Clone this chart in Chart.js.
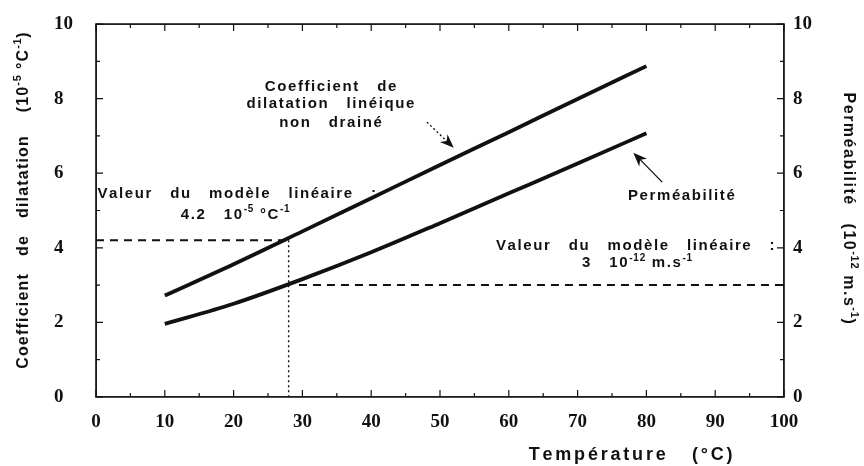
<!DOCTYPE html>
<html>
<head>
<meta charset="utf-8">
<script src="https://cdn.jsdelivr.net/npm/chart.js@4.4.1/dist/chart.umd.min.js"></script>
<style>
  html, body { margin: 0; padding: 0; background: #fff; }
  #graph { display: block; }
</style>
</head>
<body>
<canvas id="graph" width="864" height="466"></canvas>
<script>
// courbes mesurées
const temperatures = [10, 20, 30, 40, 50, 60, 70, 80]
const dilatation = [2.72, 3.56, 4.44, 5.33, 6.22, 7.10, 7.99, 8.87]
const permeabilite = [1.96, 2.50, 3.16, 3.88, 4.66, 5.46, 6.26, 7.07]

// valeurs du modèle linéaire
const modeleTemperature = 28
const modeleDilatation = 4.2
const modelePermeabilite = 3
const debutModelePermeabilite = 29.5

// graduations
const xTicks = [0, 10, 20, 30, 40, 50, 60, 70, 80, 90, 100]
const yTicks = [0, 2, 4, 6, 8, 10]

const SANS = '"Liberation Sans", Arial, sans-serif'
const SERIF = '"Liberation Serif", "Times New Roman", serif'
const NOIR = '#111'
const XMIN = 0, XMAX = 100, YMIN = 0, YMAX = 10

const points = (xs, ys) => xs.map((x, i) => ({ x: x, y: ys[i] }))

// cadre fermé, en unités des axes
const cadre = [
  { x: XMIN, y: YMIN }, { x: XMAX, y: YMIN }, { x: XMAX, y: YMAX },
  { x: XMIN, y: YMAX }, { x: XMIN, y: YMIN }
]

const policeDe = (m, taille) => `bold ${m.sup ? Math.round(taille * 0.66) : taille}px ${SANS}`

// texte espacé lettre par lettre
function largeur(ctx, morceaux, taille, esp) {
  let w = 0
  morceaux.forEach(m => {
    ctx.font = policeDe(m, taille)
    for (const c of m.t) w += ctx.measureText(c).width + (m.sup ? esp * 0.5 : esp)
  })
  return w
}

// texte avec exposants, centré verticalement sur y
function ecrire(ctx, morceaux, x, y, taille, esp, align) {
  const w = largeur(ctx, morceaux, taille, esp)
  let cx = align === 'center' ? x - w / 2 : (align === 'right' ? x - w : x)
  const base = y + taille * 0.36
  ctx.textAlign = 'left'
  ctx.textBaseline = 'alphabetic'
  ctx.fillStyle = NOIR
  morceaux.forEach(m => {
    ctx.font = policeDe(m, taille)
    const yb = m.sup ? base - taille * 0.42 : base
    for (const c of m.t) {
      ctx.fillText(c, cx, yb)
      cx += ctx.measureText(c).width + (m.sup ? esp * 0.5 : esp)
    }
  })
}

function fleche(ctx, x1, y1, x2, y2, pointille) {
  const a = Math.atan2(y2 - y1, x2 - x1)
  const L = 14, W = 5.5
  ctx.save()
  ctx.strokeStyle = NOIR
  ctx.lineWidth = 1.3
  ctx.setLineDash(pointille ? [2, 2.5] : [])
  ctx.beginPath()
  ctx.moveTo(x1, y1)
  ctx.lineTo(x2 - Math.cos(a) * 8, y2 - Math.sin(a) * 8)
  ctx.stroke()
  ctx.setLineDash([])
  ctx.translate(x2, y2)
  ctx.rotate(a)
  ctx.fillStyle = NOIR
  ctx.beginPath()
  ctx.moveTo(0, 0)
  ctx.lineTo(-L, -W)
  ctx.lineTo(-L * 0.7, 0)
  ctx.lineTo(-L, W)
  ctx.closePath()
  ctx.fill()
  ctx.restore()
}

const habillage = {
  id: 'habillage',
  afterDraw(chart) {
    const ctx = chart.ctx
    const sx = chart.scales.x, sy = chart.scales.y
    const px = v => sx.getPixelForValue(v)
    const py = v => sy.getPixelForValue(v)

    ctx.save()
    const notes = [
      { x: 34.2, y: 8.36, a: 'center', m: [{ t: 'Coefficient   de' }] },
      { x: 34.2, y: 7.88, a: 'center', m: [{ t: 'dilatation   linéique' }] },
      { x: 34.2, y: 7.37, a: 'center', m: [{ t: 'non   drainé' }] },
      { x: 0.2, y: 5.47, a: 'left', m: [{ t: 'Valeur   du   modèle   linéaire   :' }] },
      { x: 20.3, y: 4.93, a: 'center', m: [{ t: modeleDilatation.toFixed(1) + '   10' }, { t: '-5', sup: true }, { t: ' °C' }, { t: '-1', sup: true }] },
      { x: 85.2, y: 5.42, a: 'center', m: [{ t: 'Perméabilité' }] },
      { x: 78.5, y: 4.08, a: 'center', m: [{ t: 'Valeur   du   modèle   linéaire   :' }] },
      { x: 78.7, y: 3.62, a: 'center', m: [{ t: modelePermeabilite + '   10' }, { t: '-12', sup: true }, { t: ' m.s' }, { t: '-1', sup: true }] }
    ]
    notes.forEach(n => ecrire(ctx, n.m, px(n.x), py(n.y), 15, 1.6, n.a))

    fleche(ctx, px(48.1), py(7.37), px(52.0), py(6.68), true)
    fleche(ctx, px(82.3), py(5.76), px(78.1), py(6.55), false)

    // titres des axes
    ecrire(ctx, [{ t: 'Température   (°C)' }], 632, 454, 18, 2.8, 'center')

    ctx.save()
    ctx.translate(22, 200)
    ctx.rotate(-Math.PI / 2)
    ecrire(ctx, [{ t: 'Coefficient   de   dilatation    (10' }, { t: '-5', sup: true }, { t: ' °C' }, { t: '-1', sup: true }, { t: ')' }], 0, 0, 16, 1.2, 'center')
    ctx.restore()

    ctx.save()
    ctx.translate(850, 209)
    ctx.rotate(Math.PI / 2)
    ecrire(ctx, [{ t: 'Perméabilité   (10' }, { t: '-12', sup: true }, { t: ' m.s' }, { t: '-1', sup: true }, { t: ')' }], 0, 0, 16, 1.5, 'center')
    ctx.restore()

    // cadre et graduations intérieures, tracés en dernier
    const g = px(XMIN), d = px(XMAX), h = py(YMAX), b = py(YMIN)
    ctx.setLineDash([])
    ctx.strokeStyle = NOIR
    ctx.lineWidth = 1.6
    ctx.beginPath()
    ctx.moveTo(g, b); ctx.lineTo(d, b); ctx.lineTo(d, h); ctx.lineTo(g, h); ctx.closePath()
    ctx.stroke()
    ctx.lineWidth = 1.2
    ctx.beginPath()
    for (let v = XMIN; v <= XMAX; v += 5) {
      const l = v % 10 === 0 ? 7 : 4
      ctx.moveTo(px(v), b); ctx.lineTo(px(v), b - l)
      ctx.moveTo(px(v), h); ctx.lineTo(px(v), h + l)
    }
    for (let v = YMIN; v <= YMAX; v += 1) {
      const l = v % 2 === 0 ? 7 : 4
      ctx.moveTo(g, py(v)); ctx.lineTo(g + l, py(v))
      ctx.moveTo(d, py(v)); ctx.lineTo(d - l, py(v))
    }
    ctx.stroke()

    ctx.restore()
  }
}

const police = { family: SERIF, weight: 'bold', size: 19 }
const fixer = (ticks) => (scale) => { scale.ticks = ticks.map(v => ({ value: v })) }

new Chart(document.getElementById('graph'), {
  type: 'line',
  data: {
    datasets: [
      {
        data: cadre,
        yAxisID: 'y',
        borderColor: NOIR,
        borderWidth: 1.6,
        pointRadius: 0
      },
      {
        data: points(temperatures, dilatation),
        yAxisID: 'y',
        borderColor: NOIR,
        borderWidth: 3.8,
        cubicInterpolationMode: 'monotone',
        pointRadius: 0
      },
      {
        data: points(temperatures, permeabilite),
        yAxisID: 'y2',
        borderColor: NOIR,
        borderWidth: 3.8,
        cubicInterpolationMode: 'monotone',
        pointRadius: 0
      },
      {
        data: [{ x: 0, y: modeleDilatation }, { x: modeleTemperature, y: modeleDilatation }],
        yAxisID: 'y',
        borderColor: NOIR,
        borderWidth: 2,
        borderDash: [8, 6],
        pointRadius: 0
      },
      {
        data: [{ x: modeleTemperature, y: modeleDilatation }, { x: modeleTemperature, y: 0 }],
        yAxisID: 'y',
        borderColor: NOIR,
        borderWidth: 1.4,
        borderDash: [2, 3],
        pointRadius: 0
      },
      {
        data: [{ x: debutModelePermeabilite, y: modelePermeabilite }, { x: 100, y: modelePermeabilite }],
        yAxisID: 'y2',
        borderColor: NOIR,
        borderWidth: 2,
        borderDash: [8, 6],
        pointRadius: 0
      }
    ]
  },
  options: {
    responsive: false,
    animation: false,
    layout: { padding: { left: 54, top: 24, right: 0, bottom: 0 } },
    plugins: { legend: { display: false }, tooltip: { enabled: false } },
    scales: {
      x: {
        type: 'linear',
        min: XMIN, max: XMAX,
        afterBuildTicks: fixer(xTicks),
        afterFit: s => { s.height = 69 },
        grid: { display: false, drawTicks: false },
        border: { display: false },
        ticks: { color: NOIR, font: police, padding: 14, maxRotation: 0 }
      },
      y: {
        position: 'left',
        min: YMIN, max: YMAX,
        afterBuildTicks: fixer(yTicks),
        afterFit: s => { s.width = 42 },
        grid: { display: false, drawTicks: false },
        border: { display: false },
        ticks: { color: NOIR, font: police, crossAlign: 'far' }
      },
      y2: {
        position: 'right',
        min: YMIN, max: YMAX,
        afterBuildTicks: fixer(yTicks),
        afterFit: s => { s.width = 80 },
        grid: { display: false, drawTicks: false },
        border: { display: false },
        ticks: { color: NOIR, font: police, crossAlign: 'near', padding: 9 }
      }
    }
  },
  plugins: [habillage]
})
</script>
</body>
</html>
